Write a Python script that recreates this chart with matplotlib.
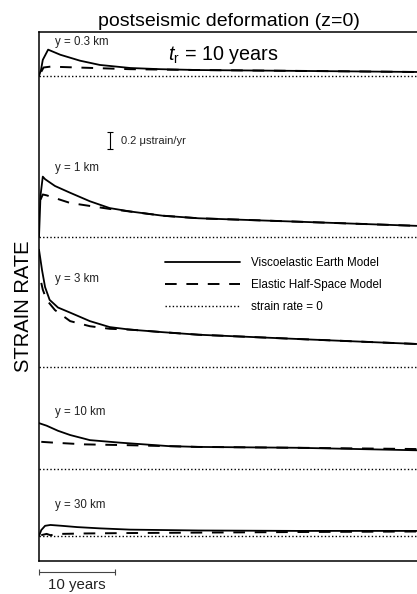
import numpy as np
import matplotlib
matplotlib.use("Agg")
import matplotlib.pyplot as plt
import matplotlib.transforms as mtransforms

plt.rcParams["font.family"] = ["Liberation Sans", "DejaVu Sans"]
plt.rcParams["mathtext.fontset"] = "custom"
plt.rcParams["mathtext.rm"] = "Liberation Sans"
plt.rcParams["mathtext.it"] = "Liberation Sans:italic"

# distance from fault for each panel (top to bottom)
panel_labels = ["y = 0.3 km", "y = 1 km", "y = 3 km", "y = 10 km", "y = 30 km"]

# time after earthquake (years) and strain rate (microstrain/yr)
visco_t = [
    [0.0, 0.26, 0.5, 1.2, 2.8, 5.4, 8.0, 12.0, 16.0, 21.0, 34.0, 50.0],
    [0.0, 0.2, 0.5, 0.8, 2.1, 4.1, 6.7, 9.3, 12.0, 16.3, 21.0, 34.0, 50.0],
    [0.0, 0.4, 0.8, 1.4, 2.5, 4.1, 6.7, 9.3, 12.0, 16.3, 21.0, 34.0, 50.0],
    [0.0, 1.0, 2.5, 4.1, 6.7, 10.7, 17.0, 21.0, 34.0, 50.0],
    [0.0, 0.3, 0.8, 1.5, 3.0, 5.0, 8.0, 12.0, 21.0, 34.0, 50.0],
]
visco_rate = [
    [0.0, 0.07, 0.19, 0.31, 0.25, 0.18, 0.13, 0.094, 0.08, 0.07, 0.06, 0.047],
    [0.0, 0.49, 0.71, 0.68, 0.60, 0.52, 0.42, 0.34, 0.30, 0.25, 0.22, 0.18, 0.13],
    [1.38, 1.14, 0.94, 0.79, 0.70, 0.64, 0.54, 0.47, 0.44, 0.41, 0.38, 0.33, 0.27],
    [0.54, 0.51, 0.45, 0.40, 0.34, 0.31, 0.27, 0.26, 0.25, 0.22],
    [0.0, 0.07, 0.12, 0.13, 0.12, 0.105, 0.09, 0.075, 0.065, 0.06, 0.06],
]

elastic_t = [
    [0.3, 0.6, 1.5, 5.0, 12.0, 21.0, 34.0, 50.0],
    [0.2, 0.5, 1.0, 4.1, 9.3, 16.3, 21.0, 34.0, 50.0],
    [0.3, 0.5, 1.0, 2.1, 4.1, 6.7, 9.3, 12.0, 16.3, 21.0, 34.0, 50.0],
    [0.3, 2.0, 6.0, 12.0, 21.0, 34.0, 50.0],
    [0.3, 1.0, 1.5, 3.0, 6.0, 12.0, 21.0, 34.0, 50.0],
]
elastic_rate = [
    [0.05, 0.10, 0.11, 0.10, 0.08, 0.07, 0.06, 0.047],
    [0.44, 0.50, 0.49, 0.40, 0.33, 0.25, 0.22, 0.18, 0.13],
    [0.99, 0.91, 0.79, 0.67, 0.54, 0.48, 0.45, 0.44, 0.41, 0.38, 0.33, 0.27],
    [0.32, 0.31, 0.29, 0.28, 0.26, 0.25, 0.235],
    [0.01, 0.025, 0.01, 0.025, 0.03, 0.035, 0.04, 0.047, 0.053],
]

# vertical offset of each panel's zero line (microstrain/yr)
offsets = [5.706, 3.812, 2.282, 1.082, 0.294]
label_heights = [0.40, 0.81, 1.03, 0.67, 0.36]

fig = plt.figure(figsize=(4.17, 5.94), dpi=100)
ax = fig.add_axes([39 / 417, 33 / 594, 380 / 417, 529 / 594])

for i in range(5):
    off = offsets[i]
    ax.plot(visco_t[i], np.array(visco_rate[i]) + off, color="black", lw=1.3,
            solid_capstyle="round", label="Viscoelastic Earth Model" if i == 0 else None)
    ax.plot(elastic_t[i], np.array(elastic_rate[i]) + off, color="black", lw=1.4,
            linestyle=(0, (6, 5)), label="Elastic Half-Space Model" if i == 0 else None)
    ax.axhline(off, color="black", lw=1.0, linestyle=(0, (1, 1.6)),
               label="strain rate = 0" if i == 0 else None)
    ax.text(2.1, off + label_heights[i], panel_labels[i],
            fontsize=8.3, color="#222222", va="center", ha="left")

ax.set_xlim(0, 50)
ax.set_ylim(0, 529 / 85)
ax.set_xticks([])
ax.set_yticks([])
ax.spines["right"].set_visible(False)
for s in ["left", "top", "bottom"]:
    ax.spines[s].set_linewidth(1.1)

ax.set_title("postseismic deformation (z=0)", fontsize=14, pad=4)
ax.text(17.0, 5.95, r"$t_\mathrm{r}$ = 10 years", fontsize=14.2, va="center")
ax.set_ylabel("STRAIN RATE", fontsize=14.5)
ax.yaxis.set_label_coords(-0.015, 0.482)

# vertical scale bar: 0.2 microstrain/yr
ax.errorbar([9.3], [4.947], yerr=[[0.1], [0.1]], color="black", lw=0.8,
            capsize=2, capthick=0.8)
ax.text(10.8, 4.947, "0.2 \u03bcstrain/yr", fontsize=8, va="center", color="#222222")

# horizontal scale bar: 10 years, drawn below the axes
trans = mtransforms.blended_transform_factory(ax.transData, ax.transAxes)
ax.errorbar([5.0], [-0.02], xerr=[[5.0], [5.0]], color="#444444", lw=0.8,
            capsize=2, capthick=0.8, transform=trans, clip_on=False)
ax.text(5.0, -0.045, "10 years", fontsize=10.8, ha="center", va="center",
        transform=trans, color="#222222")

ax.legend(loc="upper left", bbox_to_anchor=(165 / 417, 1 - 257 / 594),
          bbox_transform=fig.transFigure, frameon=False, fontsize=8.4,
          handlelength=6.4, handletextpad=1.0, labelspacing=0.84, borderpad=0,
          borderaxespad=0)

fig.savefig("out.png", dpi=100)
